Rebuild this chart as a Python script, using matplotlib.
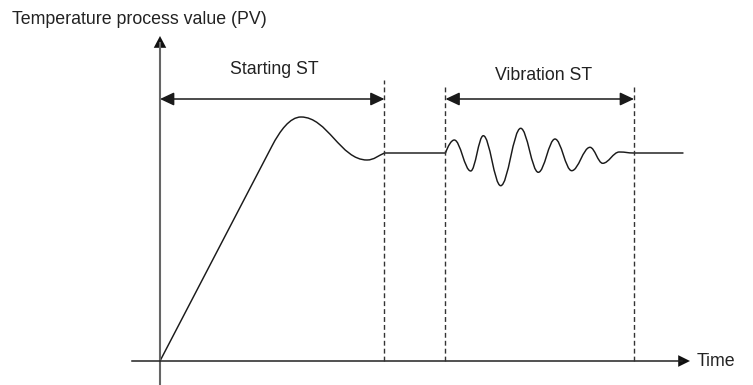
import matplotlib.pyplot as plt
from matplotlib.path import Path
from matplotlib.patches import PathPatch, FancyArrowPatch

plt.rcParams['font.family'] = ['Liberation Sans', 'DejaVu Sans']

# PV response, read as (time, value) turning points
ramp_end = (112, 215)
start_peaks_t = [141, 207]
start_peaks_v = [244, 201]
settle = (224.5, 208)
vib_start_t = 285.5
vib_t = [294.3, 310.7, 323.3, 340.7, 360.7, 378.3, 395, 411.7, 430, 442.7, 459.3]
vib_v = [221, 190, 225.3, 175.3, 232.7, 188.7, 222, 190.3, 213.7, 197.7, 209]
vib_end_t = 474
t_end = 523

# tuning windows
starting_st = (0, 224.5)
vibration_st = (285.5, 474)

fig = plt.figure(figsize=(7.53, 3.85), dpi=100)
ax = fig.add_axes([0, 0, 1, 1])
ax.set_xlim(-160, 593)
ax.set_ylim(-24, 361)
ax.axis('off')

# build the response curve from bezier pieces
verts = [(0, 0), ramp_end]
codes = [Path.MOVETO, Path.LINETO]
slope = ramp_end[1] / ramp_end[0]
p = ramp_end
q = (start_peaks_t[0], start_peaks_v[0])
verts += [(p[0] + 8, p[1] + 8 * slope), (q[0] - 11, q[1]), q]
codes += [Path.CURVE4] * 3


def smooth(p, q, k=0.4):
    dx = q[0] - p[0]
    return [(p[0] + k * dx, p[1]), (q[0] - k * dx, q[1]), q]


p = q
q = (start_peaks_t[1], start_peaks_v[1])
verts += smooth(p, q)
codes += [Path.CURVE4] * 3
p = q
verts += [(p[0] + 7, p[1]), (settle[0] - 6, settle[1] - 2.5), settle]
codes += [Path.CURVE4] * 3
verts.append((vib_start_t, settle[1]))
codes.append(Path.LINETO)

p = (vib_start_t, settle[1])
q = (vib_t[0], vib_v[0])
verts += [(p[0] + 2.5, p[1] + 7), (q[0] - 3, q[1]), q]
codes += [Path.CURVE4] * 3
for t, v in zip(vib_t[1:], vib_v[1:]):
    p = q
    q = (t, v)
    verts += smooth(p, q, 0.37)
    codes += [Path.CURVE4] * 3
p = q
q = (vib_end_t, settle[1])
verts += smooth(p, q, 0.45)
codes += [Path.CURVE4] * 3
verts.append((t_end, settle[1]))
codes.append(Path.LINETO)

ax.add_patch(PathPatch(Path(verts, codes), fill=False, ec='#1a1a1a', lw=1.05,
                       capstyle='round', joinstyle='round'))

# axes with arrow heads
ax.plot([0, 0], [-24, 318], color='#666666', lw=1.5)
ax.add_patch(FancyArrowPatch((0, 300), (0, 325), arrowstyle='-|>,head_length=0.85,head_width=0.45',
                             mutation_scale=10, color='#111111', lw=0, shrinkA=0, shrinkB=0))
ax.plot([-28, 522], [0, 0], color='#222222', lw=1.1)
ax.add_patch(FancyArrowPatch((505, 0), (530, 0), arrowstyle='-|>,head_length=0.85,head_width=0.42',
                             mutation_scale=10, color='#111111', lw=0, shrinkA=0, shrinkB=0))

# window boundaries
for t, top in [(starting_st[1], 281), (vibration_st[0], 274), (vibration_st[1], 274)]:
    ax.plot([t, t], [0, top], color='#333333', lw=1.0, dashes=(3.5, 2.2))

# window spans
for (a, b) in [starting_st, vibration_st]:
    ax.add_patch(FancyArrowPatch((a, 262), (b, 262), arrowstyle='<|-|>,head_length=0.85,head_width=0.4',
                                 mutation_scale=10, color='#1a1a1a', lw=1.1, shrinkA=0, shrinkB=0))

fs = 12.8
ax.text(114, 292, 'Starting ST', ha='center', va='center', fontsize=fs, color='#222222')
ax.text(384, 285, 'Vibration ST', ha='center', va='center', fontsize=fs, color='#222222')
ax.text(-148, 341, 'Temperature process value (PV)', ha='left', va='center', fontsize=fs, color='#222222')
ax.text(537, 0, 'Time', ha='left', va='center', fontsize=fs, color='#222222')

fig.savefig('out.png', dpi=100)
